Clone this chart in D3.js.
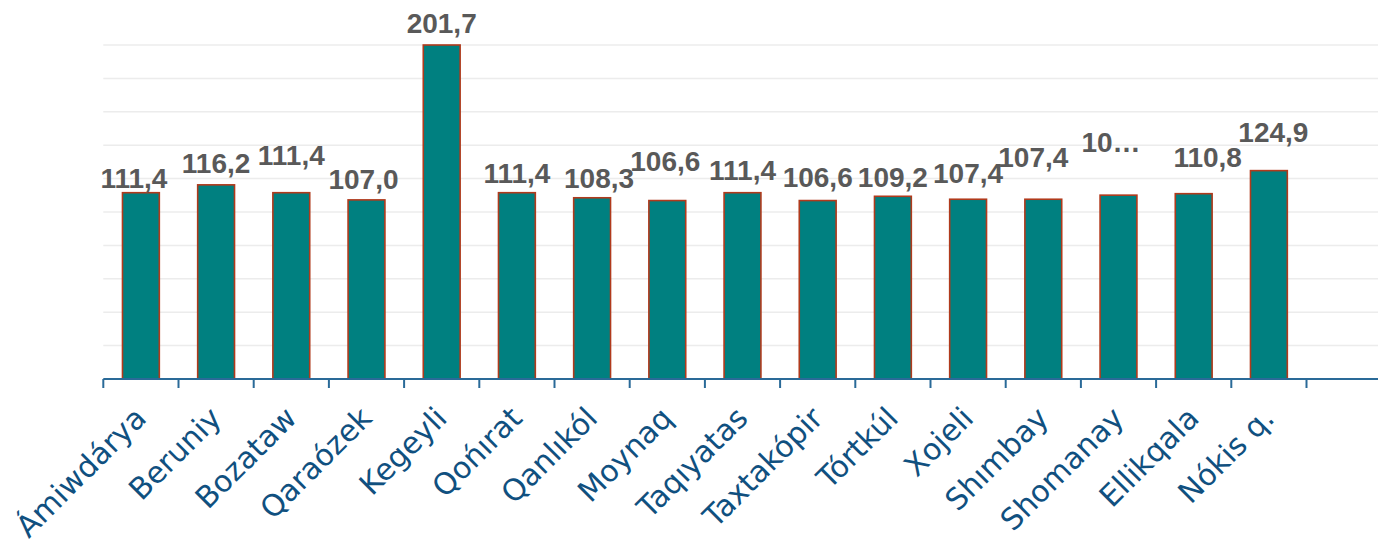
<!DOCTYPE html>
<html>
<head>
<meta charset="utf-8">
<script src="https://cdn.jsdelivr.net/npm/d3@7"></script>
<style>
  html, body { margin: 0; padding: 0; background: #ffffff; }
  svg { display: block; }
</style>
</head>
<body>
<svg id="chart" width="1378" height="543"></svg>
<script>
// Districts of Karakalpakstan, index values (previous year = 100)
const categories = [
  "Ámiwdárya", "Beruniy", "Bozataw", "Qaraózek", "Kegeyli", "Qońırat",
  "Qanlıkól", "Moynaq", "Taqıyatas", "Taxtakópir", "Tórtkúl", "Xojeli",
  "Shımbay", "Shomanay", "Ellikqala", "Nókis q."
];
const values = [
  111.4, 116.2, 111.4, 107.0, 201.7, 111.4,
  108.3, 106.6, 111.4, 106.6, 109.2, 107.4,
  107.4, 109.9, 110.8, 124.9
];
// labels that are shown cut short
const clippedLabels = ["Shomanay"];

// label placement tweaks: horizontal shift and lift above the bar top
const labelShift = [-7, 0, 0, -3, 0, 0, 7, -2, 0, 0, 0, 0, -10, -7.5, 14, 4.5];
const labelLift  = [4.7, 12, 27.7, 10.7, 11.7, 9.7, 9.3, 29.7, 12.7, 13.7, 9.7, 16, 32.3, 43.6, 27, 28.7];

const svg = d3.select("#chart");
const W = 1378;
const plotLeft = 103.3, plotBottom = 379, plotTop = 45;

// one spare slot at the end of the category axis
const slots = categories.concat([" "]);
const x = d3.scaleBand()
  .domain(slots)
  .range([plotLeft, plotLeft + 75.2 * slots.length])
  .paddingInner(0.51)
  .paddingOuter(0.255);

const yFloor = -2.5, yCeil = 201.7;
const y = d3.scaleLinear().domain([yFloor, yCeil]).range([plotBottom, plotTop]);

// horizontal gridlines
const gridVals = d3.range(11).map(i => yFloor + i * (yCeil - yFloor) / 10);
svg.append("g")
  .selectAll("line")
  .data(gridVals.slice(1))
  .join("line")
  .attr("x1", plotLeft).attr("x2", W)
  .attr("y1", d => y(d)).attr("y2", d => y(d))
  .attr("stroke", "#ececec")
  .attr("stroke-width", 1.5);

// bars
svg.append("g")
  .selectAll("rect")
  .data(values)
  .join("rect")
  .attr("x", (d, i) => x(categories[i]))
  .attr("width", x.bandwidth())
  .attr("y", d => y(d))
  .attr("height", d => y(yFloor) - y(d))
  .attr("fill", "#008080")
  .attr("stroke", "#b03a1c")
  .attr("stroke-width", 1.6);

// category axis line and tick marks between slots
const axisG = svg.append("g");
axisG.append("line")
  .attr("x1", plotLeft).attr("x2", W)
  .attr("y1", plotBottom).attr("y2", plotBottom)
  .attr("stroke", "#2a6a98")
  .attr("stroke-width", 2);
axisG.selectAll("line.tick")
  .data(d3.range(slots.length + 1))
  .join("line")
  .attr("class", "tick")
  .attr("x1", i => plotLeft + i * x.step()).attr("x2", i => plotLeft + i * x.step())
  .attr("y1", plotBottom).attr("y2", plotBottom + 9)
  .attr("stroke", "#2a6a98")
  .attr("stroke-width", 2);

// rotated category labels
axisG.selectAll("text")
  .data(categories)
  .join("text")
  .attr("transform", d => `translate(${x(d) + x.bandwidth() / 2 + 7},${plotBottom + 41}) rotate(-45)`)
  .attr("text-anchor", "end")
  .attr("font-family", "'DejaVu Sans', sans-serif")
  .attr("font-size", 30)
  .attr("fill", "#10507f")
  .text(d => d);

// value labels
const fmt = v => d3.format(".1f")(v).replace(".", ",");
svg.append("g")
  .selectAll("text")
  .data(values)
  .join("text")
  .attr("x", (d, i) => x(categories[i]) + x.bandwidth() / 2 + labelShift[i])
  .attr("y", (d, i) => y(d) - labelLift[i])
  .attr("text-anchor", "middle")
  .attr("font-family", "'Liberation Sans', Arial, sans-serif")
  .attr("font-weight", "bold")
  .attr("font-size", 28)
  .attr("fill", "#595959")
  .text((d, i) => clippedLabels.includes(categories[i]) ? fmt(d).slice(0, 2) + "…" : fmt(d));
</script>
</body>
</html>
